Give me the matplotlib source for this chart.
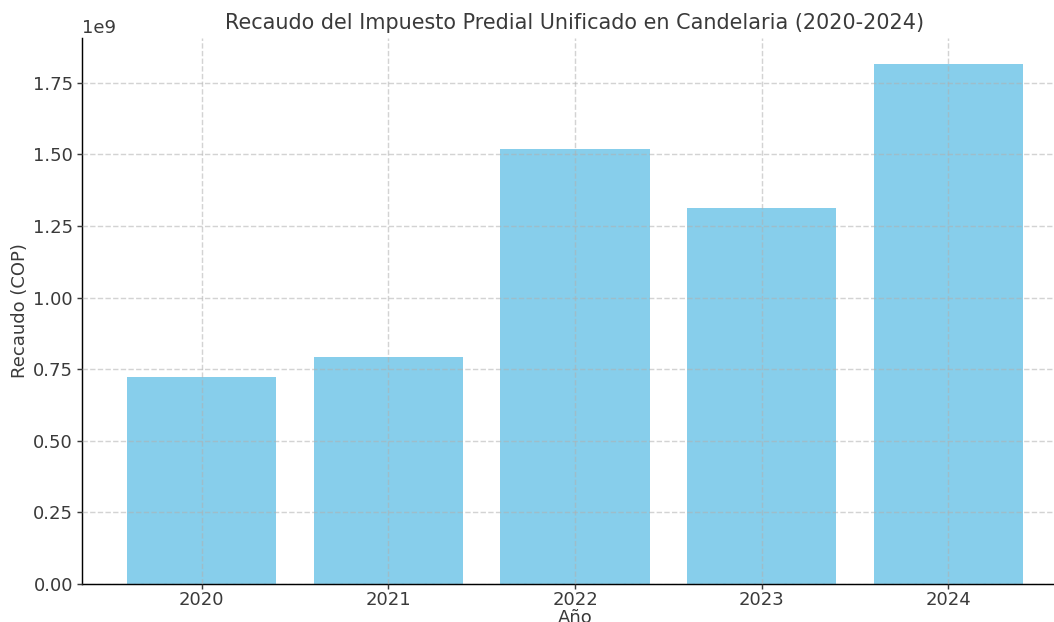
import matplotlib
matplotlib.use('Agg')
import matplotlib.pyplot as plt

# 数据
years = ['2020', '2021', '2022', '2023', '2024']
recaudo = [0.723e9, 0.793e9, 1.519e9, 1.313e9, 1.816e9]

plt.rcParams['font.family'] = ['DejaVu Sans']
plt.rcParams['text.color'] = '#3a3a3a'
plt.rcParams['axes.labelcolor'] = '#3a3a3a'
plt.rcParams['xtick.color'] = '#3a3a3a'
plt.rcParams['ytick.color'] = '#3a3a3a'

dpi = 130
fig = plt.figure(figsize=(1054 / dpi, 622 / dpi), dpi=dpi)
# 原图右侧被裁掉，坐标轴超出画布
ax = fig.add_axes([82 / 1054, 38 / 622, (1068 - 82) / 1054, (584 - 38) / 622])

ax.bar(years, recaudo, color='skyblue', zorder=1)
ax.grid(True, linestyle='--', color='#b0b0b0', alpha=0.55, zorder=2)
ax.set_axisbelow(False)
ax.spines['top'].set_visible(False)
ax.spines['right'].set_visible(False)
ax.tick_params(axis='both', length=3, pad=2)
ax.tick_params(axis='x', pad=1)

ax.set_title('Recaudo del Impuesto Predial Unificado en Candelaria (2020-2024)', fontsize=11.5, pad=5)
ax.set_xlabel('Año', labelpad=0)
ax.set_ylabel('Recaudo (COP)', labelpad=2)

fig.savefig('out.png', dpi=dpi)
